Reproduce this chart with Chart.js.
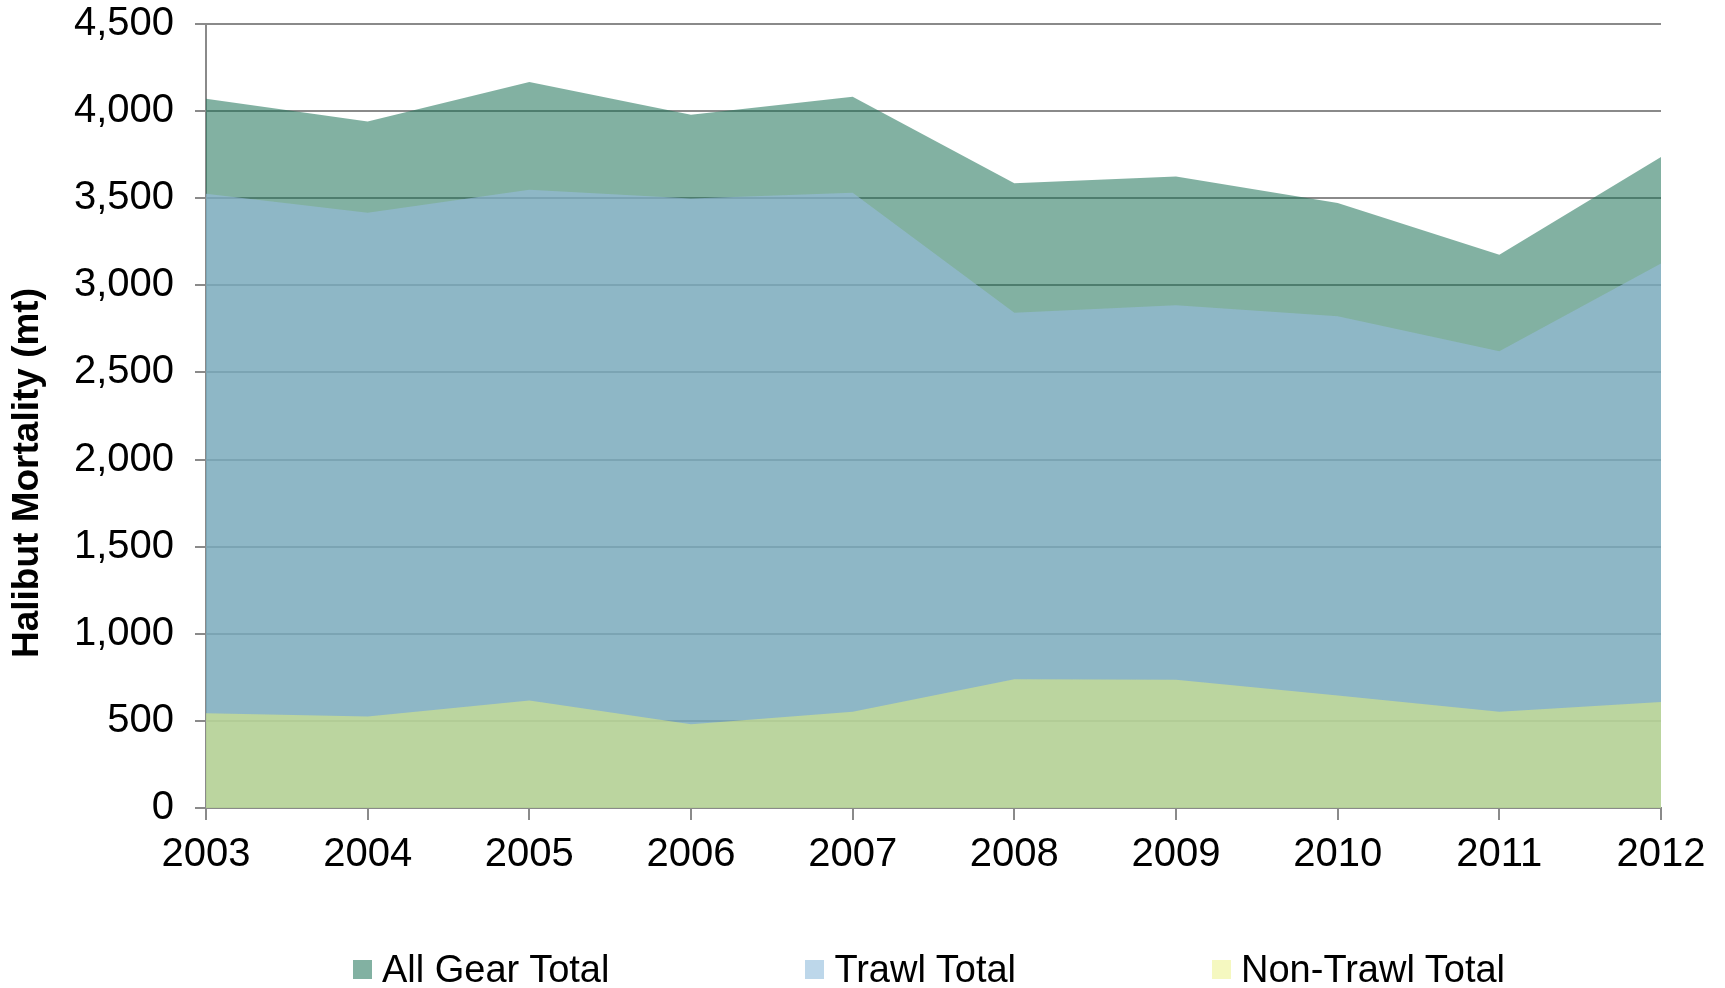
<!DOCTYPE html>
<html lang="en">
<head>
    <meta charset="UTF-8">
    <title>Halibut Mortality</title>
    <script src="https://cdn.jsdelivr.net/npm/chart.js"></script>
    <style>
        html, body { margin: 0; padding: 0; background: #fff; }
        .wrap { position: relative; width: 1725px; height: 988px; }
        #chart { position: absolute; left: 0; top: 0; }
        .legend {
            position: absolute; top: 948px; left: 353px;
            display: flex; align-items: center;
            font-family: "Liberation Sans", Arial, sans-serif; font-size: 38px; line-height: 42px; color: #000;
        }
        .legend-item { display: flex; align-items: center; margin-right: 196px; }
        .legend-item:last-child { margin-right: 0; }
        .legend-item .swatch { width: 19px; height: 19px; margin-right: 10px; }
    </style>
</head>
<body>
    <div class="wrap">
        <canvas id="chart" width="1725" height="988"></canvas>
        <div class="legend" id="legend"></div>
    </div>

    <script>
        // values (metric tons)
        const years = ['2003', '2004', '2005', '2006', '2007', '2008', '2009', '2010', '2011', '2012'];
        const allGear = [4071, 3941, 4167, 3979, 4083, 3586, 3625, 3473, 3175, 3737];
        const trawl = [3526, 3417, 3548, 3499, 3531, 2842, 2885, 2822, 2622, 3125];
        const nonTrawl = [544, 525, 617, 481, 552, 739, 736, 646, 552, 609];

        const seriesNames = ['All Gear Total', 'Trawl Total', 'Non-Trawl Total'];
        const yTitle = 'Halibut Mortality (mt)';

        // areas are see-through, layered: all gear at back, non-trawl in front
        const areaColors = ['rgba(32,116,89,0.56)', 'rgba(150,188,219,0.635)', 'rgba(233,244,122,0.5)'];
        const swatchColors = ['#82b1a2', '#bdd7ea', '#f5f8c0'];

        const font = '"Liberation Sans", Arial, sans-serif';
        const axisGray = '#8a8a8a';

        function area(label, data, color, order) {
            return {
                label: label,
                data: data,
                backgroundColor: color,
                borderWidth: 0,
                pointRadius: 0,
                fill: 'origin',
                tension: 0,
                order: order
            };
        }

        // y axis title sits lower than the middle of the axis in the original
        const yTitlePlugin = {
            id: 'yTitle',
            afterDraw(chart) {
                const ctx = chart.ctx;
                ctx.save();
                ctx.translate(28, 473);
                ctx.rotate(-Math.PI / 2);
                ctx.font = 'bold 37px ' + font;
                ctx.fillStyle = '#000';
                ctx.textAlign = 'center';
                ctx.textBaseline = 'middle';
                ctx.fillText(yTitle, 0, 0);
                ctx.restore();
            }
        };

        new Chart(document.getElementById('chart'), {
            type: 'line',
            data: {
                labels: years,
                datasets: [
                    area(seriesNames[0], allGear, areaColors[0], 3),
                    area(seriesNames[1], trawl, areaColors[1], 2),
                    area(seriesNames[2], nonTrawl, areaColors[2], 1)
                ]
            },
            options: {
                responsive: false,
                animation: false,
                layout: { padding: { left: 0, right: 64, top: 24, bottom: 100 } },
                plugins: {
                    legend: { display: false },
                    tooltip: { enabled: false }
                },
                scales: {
                    x: {
                        offset: false,
                        grid: { drawOnChartArea: false, drawTicks: true, tickLength: 12, color: axisGray, lineWidth: 2 },
                        border: { color: axisGray, width: 2 },
                        ticks: { color: '#000', font: { family: font, size: 40 }, padding: 11, maxRotation: 0, autoSkip: false },
                        afterFit(scale) { scale.height = 80; }
                    },
                    y: {
                        min: 0,
                        max: 4500,
                        grid: { color: axisGray, lineWidth: 2, tickLength: 11 },
                        border: { color: axisGray, width: 2 },
                        ticks: {
                            stepSize: 500,
                            color: '#000',
                            font: { family: font, size: 40 },
                            padding: 21,
                            callback: v => v.toLocaleString('en-US')
                        },
                        afterFit(scale) {
                            scale.width = 206;
                            scale.paddingTop = 0;
                            scale.paddingBottom = 0;
                        }
                    }
                }
            },
            plugins: [yTitlePlugin]
        });

        // legend below the chart
        const legend = document.getElementById('legend');
        seriesNames.forEach((name, i) => {
            const item = document.createElement('div');
            item.className = 'legend-item';
            item.innerHTML = '<span class="swatch" style="background:' + swatchColors[i] + '"></span><span>' + name + '</span>';
            legend.appendChild(item);
        });
    </script>
</body>
</html>
